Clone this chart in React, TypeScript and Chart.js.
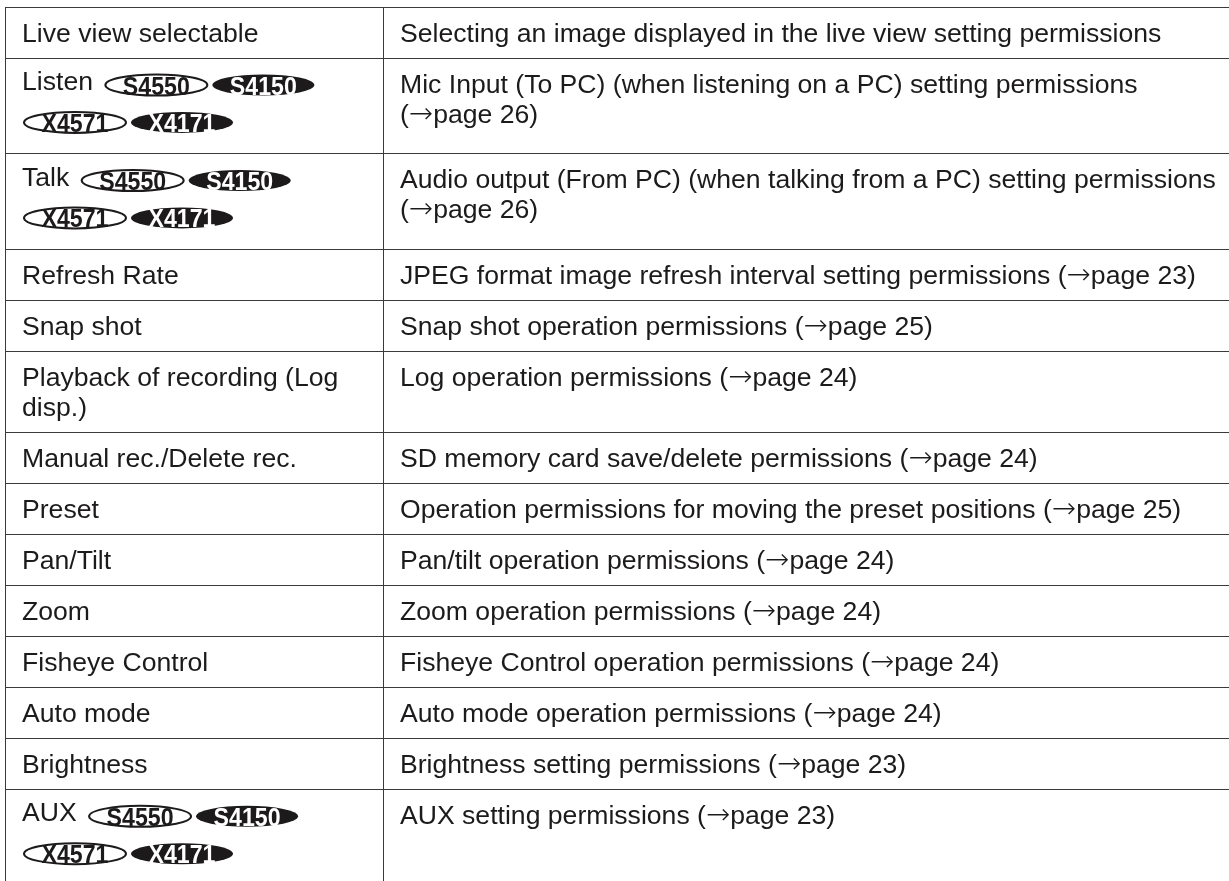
import React, { useEffect, useRef } from "react";
import { Chart, registerables } from "chart.js";

Chart.register(...registerables);

// ---------- DATA ----------
const featureNames: string[] = [
  "Live view selectable",
  "Listen",
  "Talk",
  "Refresh Rate",
  "Snap shot",
  "Playback of recording (Log disp.)",
  "Manual rec./Delete rec.",
  "Preset",
  "Pan/Tilt",
  "Zoom",
  "Fisheye Control",
  "Auto mode",
  "Brightness",
  "AUX",
];

const featureDescriptions: string[] = [
  "Selecting an image displayed in the live view setting permissions",
  "Mic Input (To PC) (when listening on a PC) setting permissions (\u2192page 26)",
  "Audio output (From PC) (when talking from a PC) setting permissions (\u2192page 26)",
  "JPEG format image refresh interval setting permissions (\u2192page 23)",
  "Snap shot operation permissions (\u2192page 25)",
  "Log operation permissions (\u2192page 24)",
  "SD memory card save/delete permissions (\u2192page 24)",
  "Operation permissions for moving the preset positions (\u2192page 25)",
  "Pan/tilt operation permissions (\u2192page 24)",
  "Zoom operation permissions (\u2192page 24)",
  "Fisheye Control operation permissions (\u2192page 24)",
  "Auto mode operation permissions (\u2192page 24)",
  "Brightness setting permissions (\u2192page 23)",
  "AUX setting permissions (\u2192page 23)",
];

const modelBadges: string[] = ["S4550", "S4150", "X4571", "X4171"];
const modelBadgeFilled: boolean[] = [false, true, false, true];
const featuresWithModelBadges: string[] = ["Listen", "Talk", "AUX"];

// ---------- LAYOUT / STYLE ----------
const CANVAS_W = 1229;
const CANVAS_H = 881;
const PAD_LEFT = 5;
const PAD_TOP = 7;
const TABLE_W = CANVAS_W - PAD_LEFT;
const TABLE_H = CANVAS_H - PAD_TOP;
const COL1_W = 378;
const CELL_PAD_X = 17;
const COL1_TEXT_MAX = COL1_W - CELL_PAD_X * 2;
const COL2_TEXT_MAX = 826;

const FONT = '26.6px "Liberation Sans"';
const ARROW_FONT = '200 29px "DejaVu Sans"';
const BADGE_FONT = 'bold 26.5px "Liberation Sans"';
const TEXT_COLOR = "#1c1a1b";
const LINE_COLOR = "#3a3a3a";

const CELL_PAD_TOP = 10;
const CELL_PAD_BOTTOM = 10.7;
const TEXT_LINE_H = 30.3;
const TEXT_BASELINE = 24.6;
const BADGE_LINE_H = 37.4;
const BADGE_BASELINE = 22;
const BADGE_W = 104;
const BADGE_H = 23;
const BADGE_GAP = 3;
const BADGE_TEXT_W = 67;

type Run = { t: string; font: string; w: number };
type Token = { text: string; badge: boolean; filled?: boolean };
type Placed = Token & { x: number; w: number; runs: Run[] };
type Line = { items: Placed[]; badge: boolean; baseline: number };
type Cell = { lines: Line[]; height: number };

function toRuns(ctx: CanvasRenderingContext2D, s: string): Run[] {
  const parts = s.split(/(\u2192)/).filter((p) => p.length > 0);
  return parts.map((p) => {
    const font = p === "\u2192" ? ARROW_FONT : FONT;
    ctx.font = font;
    return { t: p, font, w: ctx.measureText(p).width };
  });
}

function flow(ctx: CanvasRenderingContext2D, tokens: Token[], maxW: number): Cell {
  ctx.font = FONT;
  const spaceW = ctx.measureText(" ").width;
  const raw: Placed[][] = [[]];
  let x = 0;
  let prev: Token | null = null;
  for (const tok of tokens) {
    const runs = tok.badge ? [] : toRuns(ctx, tok.text);
    const w = tok.badge ? BADGE_W : runs.reduce((a, r) => a + r.w, 0);
    let gap = 0;
    if (prev) gap = tok.badge ? (prev.badge ? BADGE_GAP : spaceW + 4) : spaceW;
    else gap = tok.badge ? 1 : 0;
    if (prev && x + gap + w > maxW) {
      raw.push([]);
      x = 0;
      gap = tok.badge ? 1 : 0;
    }
    raw[raw.length - 1].push({ ...tok, x: x + gap, w, runs });
    x += gap + w;
    prev = tok;
  }
  let y = CELL_PAD_TOP;
  const lines: Line[] = raw.map((items) => {
    const badge = items.some((i) => i.badge);
    const line = { items, badge, baseline: y + (badge ? BADGE_BASELINE : TEXT_BASELINE) };
    y += badge ? BADGE_LINE_H : TEXT_LINE_H;
    return line;
  });
  return { lines, height: y + CELL_PAD_BOTTOM };
}

function words(s: string): Token[] {
  return s.split(" ").map((t) => ({ text: t, badge: false }));
}

function buildLayout() {
  const c = document.createElement("canvas");
  const ctx = c.getContext("2d") as CanvasRenderingContext2D;
  const rows = featureNames.map((name, i) => {
    const t1 = words(name);
    if (featuresWithModelBadges.includes(name)) {
      modelBadges.forEach((m, k) => t1.push({ text: m, badge: true, filled: modelBadgeFilled[k] }));
    }
    const c1 = flow(ctx, t1, COL1_TEXT_MAX);
    const c2 = flow(ctx, words(featureDescriptions[i]), COL2_TEXT_MAX);
    return { c1, c2, height: Math.max(c1.height, c2.height) };
  });
  const edges: number[] = [0];
  rows.forEach((r) => edges.push(edges[edges.length - 1] + r.height));
  return { rows, edges };
}

function drawBadge(ctx: CanvasRenderingContext2D, x: number, cy: number, label: string, filled: boolean) {
  const rx = BADGE_W / 2;
  const ry = BADGE_H / 2;
  const cx = x + rx;
  ctx.beginPath();
  ctx.ellipse(cx, cy, rx - 1, ry - 1, 0, 0, Math.PI * 2);
  if (filled) {
    ctx.fillStyle = TEXT_COLOR;
    ctx.fill();
  } else {
    ctx.fillStyle = "#ffffff";
    ctx.fill();
    ctx.lineWidth = 2;
    ctx.strokeStyle = TEXT_COLOR;
    ctx.stroke();
  }
  ctx.save();
  ctx.font = BADGE_FONT;
  const m = ctx.measureText(label).width;
  ctx.translate(cx, cy + 9.5);
  ctx.scale(BADGE_TEXT_W / m, 1);
  ctx.textAlign = "center";
  ctx.textBaseline = "alphabetic";
  ctx.fillStyle = filled ? "#ffffff" : TEXT_COLOR;
  ctx.fillText(label, 0, 0);
  ctx.restore();
}

export default function App() {
  const ref = useRef<HTMLCanvasElement | null>(null);

  useEffect(() => {
    let chart: Chart | null = null;
    let cancelled = false;

    const create = () => {
      if (cancelled || !ref.current) return;
      const layout = buildLayout();
      const rowEdges = layout.edges.filter((v) => v <= TABLE_H);
      const colEdges = [0, COL1_W];

      const tablePlugin = {
        id: "tableText",
        afterDraw(ch: any) {
          const ctx: CanvasRenderingContext2D = ch.ctx;
          const xs = ch.scales.x;
          const ys = ch.scales.y;
          ctx.save();
          layout.rows.forEach((row, i) => {
            const top = ys.getPixelForValue(layout.edges[i]);
            const cells = [
              { cell: row.c1, x0: xs.getPixelForValue(colEdges[0]) + CELL_PAD_X },
              { cell: row.c2, x0: xs.getPixelForValue(colEdges[1]) + CELL_PAD_X },
            ];
            cells.forEach(({ cell, x0 }) => {
              cell.lines.forEach((line) => {
                const by = top + line.baseline;
                line.items.forEach((it) => {
                  if (it.badge) {
                    drawBadge(ctx, x0 + it.x, by - 5, it.text, !!it.filled);
                  } else {
                    let rx = x0 + it.x;
                    it.runs.forEach((r) => {
                      ctx.font = r.font;
                      ctx.fillStyle = TEXT_COLOR;
                      ctx.textAlign = "left";
                      ctx.textBaseline = "alphabetic";
                      ctx.fillText(r.t, rx, by);
                      rx += r.w;
                    });
                  }
                });
              });
            });
          });
          ctx.restore();
        },
      };

      chart = new Chart(ref.current, {
        type: "scatter",
        data: { datasets: [{ data: [], pointRadius: 0 }] },
        options: {
          responsive: false,
          animation: false,
          events: [],
          layout: { padding: { left: PAD_LEFT, top: PAD_TOP, right: 0, bottom: 0 } },
          plugins: {
            legend: { display: false },
            tooltip: { enabled: false },
            title: { display: false },
          },
          scales: {
            x: {
              type: "linear",
              position: "top",
              min: 0,
              max: TABLE_W,
              afterBuildTicks: (s: any) => {
                s.ticks = colEdges.map((v) => ({ value: v }));
              },
              ticks: { display: false },
              grid: { drawTicks: false, color: LINE_COLOR, lineWidth: 1 },
              border: { display: false },
            },
            y: {
              type: "linear",
              reverse: true,
              min: 0,
              max: TABLE_H,
              afterBuildTicks: (s: any) => {
                s.ticks = rowEdges.map((v) => ({ value: v }));
              },
              ticks: { display: false },
              grid: { drawTicks: false, color: LINE_COLOR, lineWidth: 1 },
              border: { display: false },
            },
          },
        } as any,
        plugins: [tablePlugin],
      });
    };

    const fonts: any = (document as any).fonts;
    if (fonts && fonts.load) {
      Promise.all([
        fonts.load(FONT, "Abc"),
        fonts.load(BADGE_FONT, "S4550"),
        fonts.load(ARROW_FONT, "\u2192"),
      ])
        .catch(() => null)
        .then(create);
    } else {
      create();
    }

    return () => {
      cancelled = true;
      if (chart) chart.destroy();
    };
  }, []);

  return (
    <div style={{ position: "absolute", left: 0, top: 0, width: CANVAS_W, height: CANVAS_H, background: "#fff" }}>
      <canvas ref={ref} width={CANVAS_W} height={CANVAS_H} style={{ display: "block" }} />
    </div>
  );
}
